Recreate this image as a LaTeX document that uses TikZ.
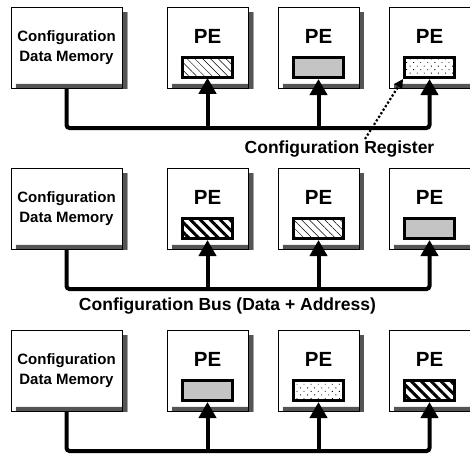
\documentclass[tikz,border=0pt]{standalone}
\usepackage{fontspec}
\setmainfont{Liberation Sans}
\usetikzlibrary{arrows.meta,patterns.meta}

\tikzset{
  unitbox/.style={draw=black, line width=0.9pt, fill=white, inner sep=0pt},
  membox/.style={unitbox, minimum width=111pt, minimum height=81pt, align=center,
    font=\fontsize{15}{19.5}\selectfont\bfseries},
  pebox/.style={unitbox, minimum width=81pt, minimum height=81pt},
  petext/.style={anchor=base, inner sep=0pt, font=\fontsize{20.5}{24}\selectfont\bfseries},
  % shadow toned as a fine black line screen
  boxshadow/.style={draw=none, pattern={Lines[angle=0, distance=1pt, line width=0.36pt]}},
  regbox/.style={draw=black, line width=3pt, minimum width=50pt, minimum height=20pt, inner sep=0pt},
  thinhatch/.style={pattern={Lines[angle=-45, distance=5.5pt, line width=0.5pt]}},
  thickhatch/.style={pattern={Lines[angle=-45, distance=7pt, line width=3pt]}},
  densedots/.style={pattern={Dots[distance=2pt, radius=0.55pt]}},
  sparsedots/.style={pattern={Dots[distance=5pt, radius=0.6pt, angle=45]}},
  busline/.style={line width=4pt, rounded corners=3pt, -{Triangle[width=17pt, length=16pt]}},
  pointer/.style={line width=2.2pt, dash pattern=on 2.2pt off 2pt, -{Triangle[width=9pt, length=9pt]}},
  lbl/.style={anchor=base, inner sep=0pt, font=\fontsize{17.5}{21}\selectfont\bfseries},
}

\begin{document}
\begin{tikzpicture}[x=1pt, y=-1pt]
  \useasboundingbox (0,0) rectangle (470,455);

  % three configurations of the same array
  \foreach \r/\oy/\pa/\pb/\pc in {1/0/thinhatch/densedots/sparsedots,
                                  2/161/thickhatch/thinhatch/densedots,
                                  3/323/densedots/sparsedots/thickhatch}{
    \node[membox] (mem\r) at (66.5,{\oy+47.5}) {Configuration\\Data Memory};
    % L-shaped drop shadow to the right of and below each box
    \path[boxshadow] ([shift={(0.45,5)}]mem\r.north east) -- ++(4.55,0) |- ([shift={(5,0.45)}]mem\r.south west)
      -- ++(0,-5) -| ([shift={(0.45,0.45)}]mem\r.south east) -- cycle;
    \foreach \c/\x/\p in {1/207.5/\pa, 2/318.5/\pb, 3/429.5/\pc}{
      \node[pebox] (pe\r\c) at (\x,{\oy+47.5}) {};
      \path[boxshadow] ([shift={(0.45,5)}]pe\r\c.north east) -- ++(4.55,0) |- ([shift={(5,0.45)}]pe\r\c.south west)
        -- ++(0,-5) -| ([shift={(0.45,0.45)}]pe\r\c.south east) -- cycle;
      \node[petext] (pet\r\c) at (\x,{\oy+43}) {PE};
      \node[regbox,\p] (reg\r\c) at (\x,{\oy+67.5}) {};
    }
    \coordinate (bus\r) at (0,{\oy+128});
    \draw[busline] (mem\r.south) |- (reg\r3.south |- bus\r) -- (reg\r3.south);
    \draw[busline] (reg\r1.south |- bus\r) -- (reg\r1.south);
    \draw[busline] (reg\r2.south |- bus\r) -- (reg\r2.south);
  }

  % labels
  \node[lbl] (regtxt) at (339.5,153.5) {Configuration Register};
  \node[lbl] (bustxt) at (227.5,310.5) {Configuration Bus (Data + Address)};

  % pointer from the label to one register
  \coordinate (dotstart) at (365,139);
  \draw[pointer] (dotstart) -- (reg13.south west);
\end{tikzpicture}
\end{document}
